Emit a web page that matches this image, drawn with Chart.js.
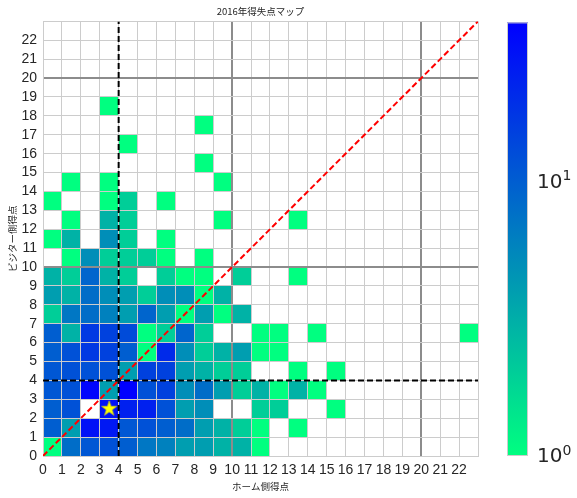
<!DOCTYPE html>
<html>
<head>
<meta charset="utf-8">
<script src="https://cdn.jsdelivr.net/npm/chart.js@4.4.0/dist/chart.umd.min.js"></script>
<style>
  html, body { margin: 0; padding: 0; background: #fff; }
</style>
</head>
<body>
<canvas id="scoreMap" width="577" height="498"></canvas>
<script>
// score axis: 0..23 (cell edges), labels only up to 22
const scoreTicks = [0, 1, 2, 3, 4, 5, 6, 7, 8, 9, 10, 11, 12, 13, 14, 15, 16, 17, 18, 19, 20, 21, 22, 23];

// number of games per score; row = visitor score, column = home score (0..22)
const gameCounts = [
  [1, 8, 11, 12, 10, 7, 6, 4, 4, 3, 3, 1, 0, 0, 0, 0, 0, 0, 0, 0, 0, 0, 0],
  [10, 4, 30, 27, 11, 12, 10, 8, 4, 3, 2, 1, 0, 1, 0, 0, 0, 0, 0, 0, 0, 0, 0],
  [10, 12, 0, 30, 24, 24, 12, 4, 5, 0, 0, 2, 2, 0, 0, 1, 0, 0, 0, 0, 0, 0, 0],
  [11, 12, 36, 4, 38, 12, 15, 5, 8, 4, 2, 3, 1, 3, 1, 0, 0, 0, 0, 0, 0, 0, 0],
  [11, 12, 12, 12, 4, 15, 15, 4, 3, 2, 2, 0, 0, 1, 0, 1, 0, 0, 0, 0, 0, 0, 0],
  [10, 12, 17, 15, 10, 1, 21, 5, 2, 3, 4, 1, 1, 0, 0, 0, 0, 0, 0, 0, 0, 0, 0],
  [10, 3, 17, 15, 13, 1, 2, 9, 2, 0, 0, 1, 1, 0, 1, 0, 0, 0, 0, 0, 0, 0, 1],
  [2, 7, 8, 6, 4, 9, 4, 1, 4, 1, 3, 0, 0, 0, 0, 0, 0, 0, 0, 0, 0, 0, 0],
  [4, 3, 8, 5, 4, 2, 5, 5, 1, 3, 0, 0, 0, 0, 0, 0, 0, 0, 0, 0, 0, 0, 0],
  [3, 2, 9, 3, 2, 0, 2, 1, 1, 0, 2, 0, 0, 1, 0, 0, 0, 0, 0, 0, 0, 0, 0],
  [0, 1, 5, 2, 2, 2, 1, 0, 1, 0, 0, 0, 0, 0, 0, 0, 0, 0, 0, 0, 0, 0, 0],
  [1, 3, 0, 5, 2, 0, 1, 0, 0, 0, 0, 0, 0, 0, 0, 0, 0, 0, 0, 0, 0, 0, 0],
  [0, 1, 0, 3, 2, 0, 0, 0, 0, 1, 0, 0, 0, 1, 0, 0, 0, 0, 0, 0, 0, 0, 0],
  [1, 0, 0, 1, 2, 0, 1, 0, 0, 0, 0, 0, 0, 0, 0, 0, 0, 0, 0, 0, 0, 0, 0],
  [0, 1, 0, 1, 0, 0, 0, 0, 0, 1, 0, 0, 0, 0, 0, 0, 0, 0, 0, 0, 0, 0, 0],
  [0, 0, 0, 0, 0, 0, 0, 0, 1, 0, 0, 0, 0, 0, 0, 0, 0, 0, 0, 0, 0, 0, 0],
  [0, 0, 0, 0, 1, 0, 0, 0, 0, 0, 0, 0, 0, 0, 0, 0, 0, 0, 0, 0, 0, 0, 0],
  [0, 0, 0, 0, 0, 0, 0, 0, 1, 0, 0, 0, 0, 0, 0, 0, 0, 0, 0, 0, 0, 0, 0],
  [0, 0, 0, 1, 0, 0, 0, 0, 0, 0, 0, 0, 0, 0, 0, 0, 0, 0, 0, 0, 0, 0, 0],
  [0, 0, 0, 0, 0, 0, 0, 0, 0, 0, 0, 0, 0, 0, 0, 0, 0, 0, 0, 0, 0, 0, 0],
  [0, 0, 0, 0, 0, 0, 0, 0, 0, 0, 0, 0, 0, 0, 0, 0, 0, 0, 0, 0, 0, 0, 0],
  [0, 0, 0, 0, 0, 0, 0, 0, 0, 0, 0, 0, 0, 0, 0, 0, 0, 0, 0, 0, 0, 0, 0],
  [0, 0, 0, 0, 0, 0, 0, 0, 0, 0, 0, 0, 0, 0, 0, 0, 0, 0, 0, 0, 0, 0, 0]
];

// star marker (average score)
const starHome = [3.5];
const starVisitor = [2.5];
// dashed reference lines
const lineScore = [4];
const diagonalEnds = [0, 23];
// colorbar ticks
const colorbarTicks = [1, 10];

const colorMax = Math.max(...gameCounts.flat());
const labelFont = "'Liberation Sans', Arial, sans-serif";
const jpFont = "'Noto Sans CJK JP', sans-serif";

// matplotlib winter_r on a log scale
function cellColor(v) {
  const t = Math.log(v) / Math.log(colorMax);
  const g = Math.round(255 * (1 - t));
  const b = Math.round(127.5 + 127.5 * t);
  return `rgb(0,${g},${b})`;
}

function makeStar(size, R) {
  const c = document.createElement('canvas');
  c.width = size;
  c.height = size;
  const g = c.getContext('2d');
  const r = R * 0.382;
  g.beginPath();
  for (let i = 0; i < 10; i++) {
    const ang = -Math.PI / 2 + i * Math.PI / 5;
    const rad = i % 2 ? r : R;
    g.lineTo(size / 2 + rad * Math.cos(ang), size / 2 + rad * Math.sin(ang));
  }
  g.closePath();
  g.fillStyle = '#ffff00';
  g.fill();
  g.strokeStyle = '#d8d800';
  g.lineWidth = 0.6;
  g.stroke();
  return c;
}

// cells go under the grid
const heatmapPlugin = {
  id: 'heatmap',
  beforeDraw(chart) {
    const { ctx, scales: { x, y } } = chart;
    ctx.save();
    gameCounts.forEach((row, vi) => {
      row.forEach((count, hi) => {
        if (!count) return;
        const x0 = x.getPixelForValue(hi);
        const x1 = x.getPixelForValue(hi + 1);
        const y0 = y.getPixelForValue(vi + 1);
        const y1 = y.getPixelForValue(vi);
        ctx.fillStyle = cellColor(count);
        ctx.fillRect(x0, y0, x1 - x0, y1 - y0);
      });
    });
    ctx.restore();
  }
};

const colorbarPlugin = {
  id: 'colorbar',
  afterDraw(chart) {
    const { ctx, chartArea } = chart;
    const left = chartArea.right + 29;
    const width = 21;
    const top = chartArea.top + 1;
    const bottom = chartArea.bottom;
    ctx.save();
    const grad = ctx.createLinearGradient(0, bottom, 0, top);
    grad.addColorStop(0, 'rgb(0,255,128)');
    grad.addColorStop(1, 'rgb(0,0,255)');
    ctx.fillStyle = grad;
    ctx.fillRect(left, top, width, bottom - top);
    ctx.strokeStyle = '#cccccc';
    ctx.lineWidth = 1;
    ctx.strokeRect(left + 0.5, top + 0.5, width - 1, bottom - top - 1);

    ctx.fillStyle = '#262626';
    ctx.textBaseline = 'middle';
    ctx.textAlign = 'left';
    colorbarTicks.forEach(v => {
      const py = bottom - Math.log(v) / Math.log(colorMax) * (bottom - top);
      const exp = Math.round(Math.log10(v));
      ctx.font = "20px 'DejaVu Sans'";
      ctx.fillText('10', left + 30, py + 1);
      const w = ctx.measureText('10').width;
      ctx.font = "14px 'DejaVu Sans'";
      ctx.fillText(String(exp), left + 30 + w, py - 5);
    });
    ctx.restore();
  }
};

const gridColor = c => (c.tick && (c.tick.value === 10 || c.tick.value === 20)) ? '#8c8c8c' : '#cccccc';
const gridWidth = c => (c.tick && (c.tick.value === 10 || c.tick.value === 20)) ? 2 : 1;

function scoreAxis(titleText, isX) {
  return {
    type: 'linear',
    min: 0,
    max: 23,
    afterBuildTicks: s => { s.ticks = scoreTicks.map(v => ({ value: v })); },
    afterFit: s => {
      if (isX) s.height = 42;
      else s.width = 43;
    },
    ticks: {
      autoSkip: false,
      maxRotation: 0,
      padding: 6,
      color: '#262626',
      font: { family: labelFont, size: 14 },
      callback: v => (v < 23 ? v : '')
    },
    grid: { color: gridColor, lineWidth: gridWidth, drawTicks: false },
    border: { display: true, color: '#cccccc' },
    title: {
      display: true,
      text: titleText,
      color: '#262626',
      font: { family: jpFont, size: 9.5 },
      padding: isX ? { top: 2, bottom: 6 } : { top: 7, bottom: 0 }
    }
  };
}

new Chart(document.getElementById('scoreMap'), {
  type: 'scatter',
  data: {
    datasets: [
      {
        data: starHome.map((h, i) => ({ x: h, y: starVisitor[i] })),
        pointStyle: makeStar(18, 8),
        pointRadius: 9
      },
      {
        data: [{ x: lineScore[0], y: diagonalEnds[0] }, { x: lineScore[0], y: diagonalEnds[1] }],
        showLine: true,
        borderColor: '#000000',
        borderWidth: 2,
        borderDash: [6, 3],
        pointRadius: 0
      },
      {
        data: [{ x: diagonalEnds[0], y: lineScore[0] }, { x: diagonalEnds[1], y: lineScore[0] }],
        showLine: true,
        borderColor: '#000000',
        borderWidth: 2,
        borderDash: [6, 3],
        pointRadius: 0
      },
      {
        data: diagonalEnds.map(v => ({ x: v, y: v })),
        showLine: true,
        borderColor: '#ff0000',
        borderWidth: 2,
        borderDash: [6, 3],
        pointRadius: 0
      }
    ]
  },
  options: {
    responsive: false,
    animation: false,
    layout: { padding: { left: 0, right: 99, top: 0, bottom: 0 } },
    plugins: {
      legend: { display: false },
      tooltip: { enabled: false },
      title: {
        display: true,
        text: '2016年得失点マップ',
        fullSize: false,
        color: '#262626',
        font: { family: jpFont, size: 9.5, weight: 'normal' },
        padding: { top: 6, bottom: 4 }
      }
    },
    scales: {
      x: scoreAxis('ホーム側得点', true),
      y: scoreAxis('ビジター側得点', false)
    }
  },
  plugins: [heatmapPlugin, colorbarPlugin]
});
</script>
</body>
</html>
